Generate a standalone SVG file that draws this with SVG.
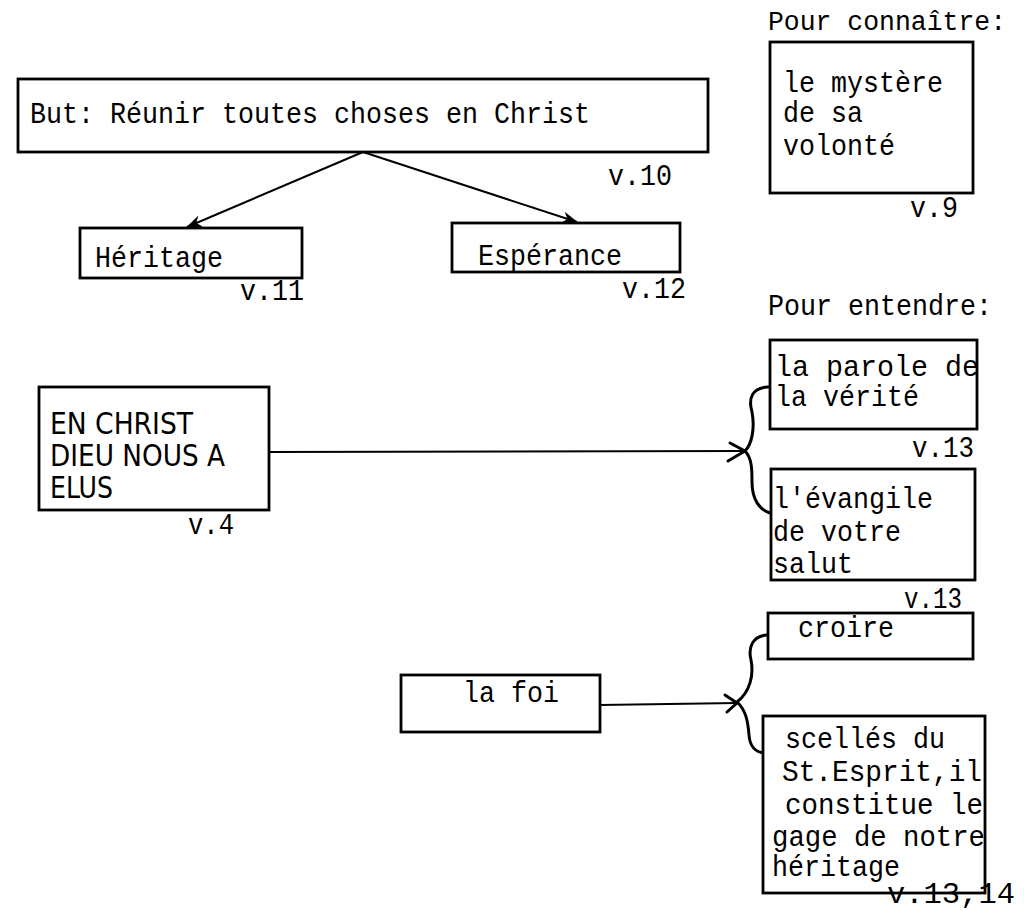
<svg xmlns="http://www.w3.org/2000/svg" width="1024" height="911" viewBox="0 0 1024 911">
<defs>
<style>
.box{fill:#fff;stroke:#000;stroke-width:2.8}
.t{font-family:"Liberation Mono","DejaVu Sans Mono",monospace;font-size:29px;fill:#000}
.c{font-family:"Liberation Sans Narrow","DejaVu Sans Condensed","Liberation Sans",sans-serif;font-size:30px;fill:#000}
.ln{fill:none;stroke:#000;stroke-width:2}
.br{fill:none;stroke:#000;stroke-width:3;stroke-linecap:round;stroke-linejoin:round}
</style>
<marker id="ah" markerUnits="userSpaceOnUse" markerWidth="18" markerHeight="14" refX="15" refY="7" orient="auto">
<path d="M0,1 L16,7 L0,13 L5,7 Z" fill="#000"/>
</marker>
</defs>
<rect width="1024" height="911" fill="#fff"/>

<g id="connectors">
<line class="ln" x1="363" y1="152" x2="187" y2="227" marker-end="url(#ah)"/>
<line class="ln" x1="363" y1="152" x2="577" y2="222" marker-end="url(#ah)"/>
<line class="ln" x1="269" y1="452" x2="745" y2="451"/>
<path class="br" d="M730,443 L745,451 L728,461"/>
<path class="br" d="M768,387 C752,388 748,398 752,412 C755,428 752,444 745,451 C752,458 752,470 752,482 C752,500 760,510 770,513"/>
<line class="ln" x1="600" y1="705" x2="737" y2="703"/>
<path class="br" d="M725,695 L737,703 L727,712"/>
<path class="br" d="M767,635 C752,636 748,648 751,660 C754,675 750,692 737,702 C746,710 748,722 749,735 C750,748 756,752 764,753"/>
</g>

<g id="but">
<rect class="box" x="18" y="79" width="690" height="73"/>
<text class="t" x="30" y="123" textLength="560" lengthAdjust="spacingAndGlyphs">But: Réunir toutes choses en Christ</text>
<text class="t" x="608" y="185" textLength="64" lengthAdjust="spacingAndGlyphs">v.10</text>
</g>

<g id="heritage">
<rect class="box" x="80" y="228" width="222" height="50"/>
<text class="t" x="95" y="267" textLength="128" lengthAdjust="spacingAndGlyphs">Héritage</text>
<text class="t" x="240" y="300" textLength="64" lengthAdjust="spacingAndGlyphs">v.11</text>
</g>

<g id="esperance">
<rect class="box" x="452" y="223" width="228" height="49"/>
<text class="t" x="478" y="265" textLength="144" lengthAdjust="spacingAndGlyphs">Espérance</text>
<text class="t" x="622" y="298" textLength="64" lengthAdjust="spacingAndGlyphs">v.12</text>
</g>

<g id="connaitre">
<text class="t" x="768" y="30" style="font-size:27px" textLength="238" lengthAdjust="spacingAndGlyphs">Pour connaître:</text>
<rect class="box" x="770" y="42" width="203" height="151"/>
<text class="t" x="783" y="92" textLength="160" lengthAdjust="spacingAndGlyphs">le mystère</text>
<text class="t" x="783" y="122" textLength="80" lengthAdjust="spacingAndGlyphs">de sa</text>
<text class="t" x="783" y="155" textLength="112" lengthAdjust="spacingAndGlyphs">volonté</text>
<text class="t" x="910" y="217" textLength="48" lengthAdjust="spacingAndGlyphs">v.9</text>
</g>

<g id="entendre">
<text class="t" x="768" y="315" textLength="224" lengthAdjust="spacingAndGlyphs">Pour entendre:</text>
</g>

<g id="parole">
<rect class="box" x="770" y="340" width="207" height="89"/>
<text class="t" x="775" y="376" textLength="204" lengthAdjust="spacingAndGlyphs">la parole de</text>
<text class="t" x="775" y="406" textLength="144" lengthAdjust="spacingAndGlyphs">la vérité</text>
<text class="t" x="912" y="457" textLength="62" lengthAdjust="spacingAndGlyphs">v.13</text>
</g>

<g id="evangile">
<rect class="box" x="771" y="469" width="204" height="111"/>
<text class="t" x="773" y="508" textLength="160" lengthAdjust="spacingAndGlyphs">l'évangile</text>
<text class="t" x="773" y="541" textLength="128" lengthAdjust="spacingAndGlyphs">de votre</text>
<text class="t" x="773" y="573" textLength="80" lengthAdjust="spacingAndGlyphs">salut</text>
<text class="t" x="904" y="608" textLength="58" lengthAdjust="spacingAndGlyphs">v.13</text>
</g>

<g id="elus">
<rect class="box" x="39" y="387" width="230" height="123"/>
<text class="c" x="50" y="434" textLength="143" lengthAdjust="spacingAndGlyphs">EN CHRIST</text>
<text class="c" x="50" y="466" textLength="175" lengthAdjust="spacingAndGlyphs">DIEU NOUS A</text>
<text class="c" x="50" y="498" textLength="63" lengthAdjust="spacingAndGlyphs">ELUS</text>
<text class="t" x="188" y="534" textLength="46" lengthAdjust="spacingAndGlyphs">v.4</text>
</g>

<g id="croire">
<rect class="box" x="768" y="613" width="205" height="46"/>
<text class="t" x="798" y="637" textLength="96" lengthAdjust="spacingAndGlyphs">croire</text>
</g>

<g id="foi">
<rect class="box" x="401" y="675" width="199" height="57"/>
<text class="t" x="463" y="702" textLength="96" lengthAdjust="spacingAndGlyphs">la foi</text>
</g>

<g id="scelles">
<rect class="box" x="763" y="716" width="222" height="177"/>
<text class="t" x="785" y="748" textLength="160" lengthAdjust="spacingAndGlyphs">scellés du</text>
<text class="t" x="782" y="781" textLength="200" lengthAdjust="spacingAndGlyphs">St.Esprit,il</text>
<text class="t" x="785" y="814" textLength="198" lengthAdjust="spacingAndGlyphs">constitue le</text>
<text class="t" x="772" y="846" textLength="213" lengthAdjust="spacingAndGlyphs">gage de notre</text>
<text class="t" x="772" y="876" textLength="128" lengthAdjust="spacingAndGlyphs">héritage</text>
<text class="t" x="887" y="903" textLength="128" lengthAdjust="spacingAndGlyphs">v.13,14</text>
</g>
</svg>
